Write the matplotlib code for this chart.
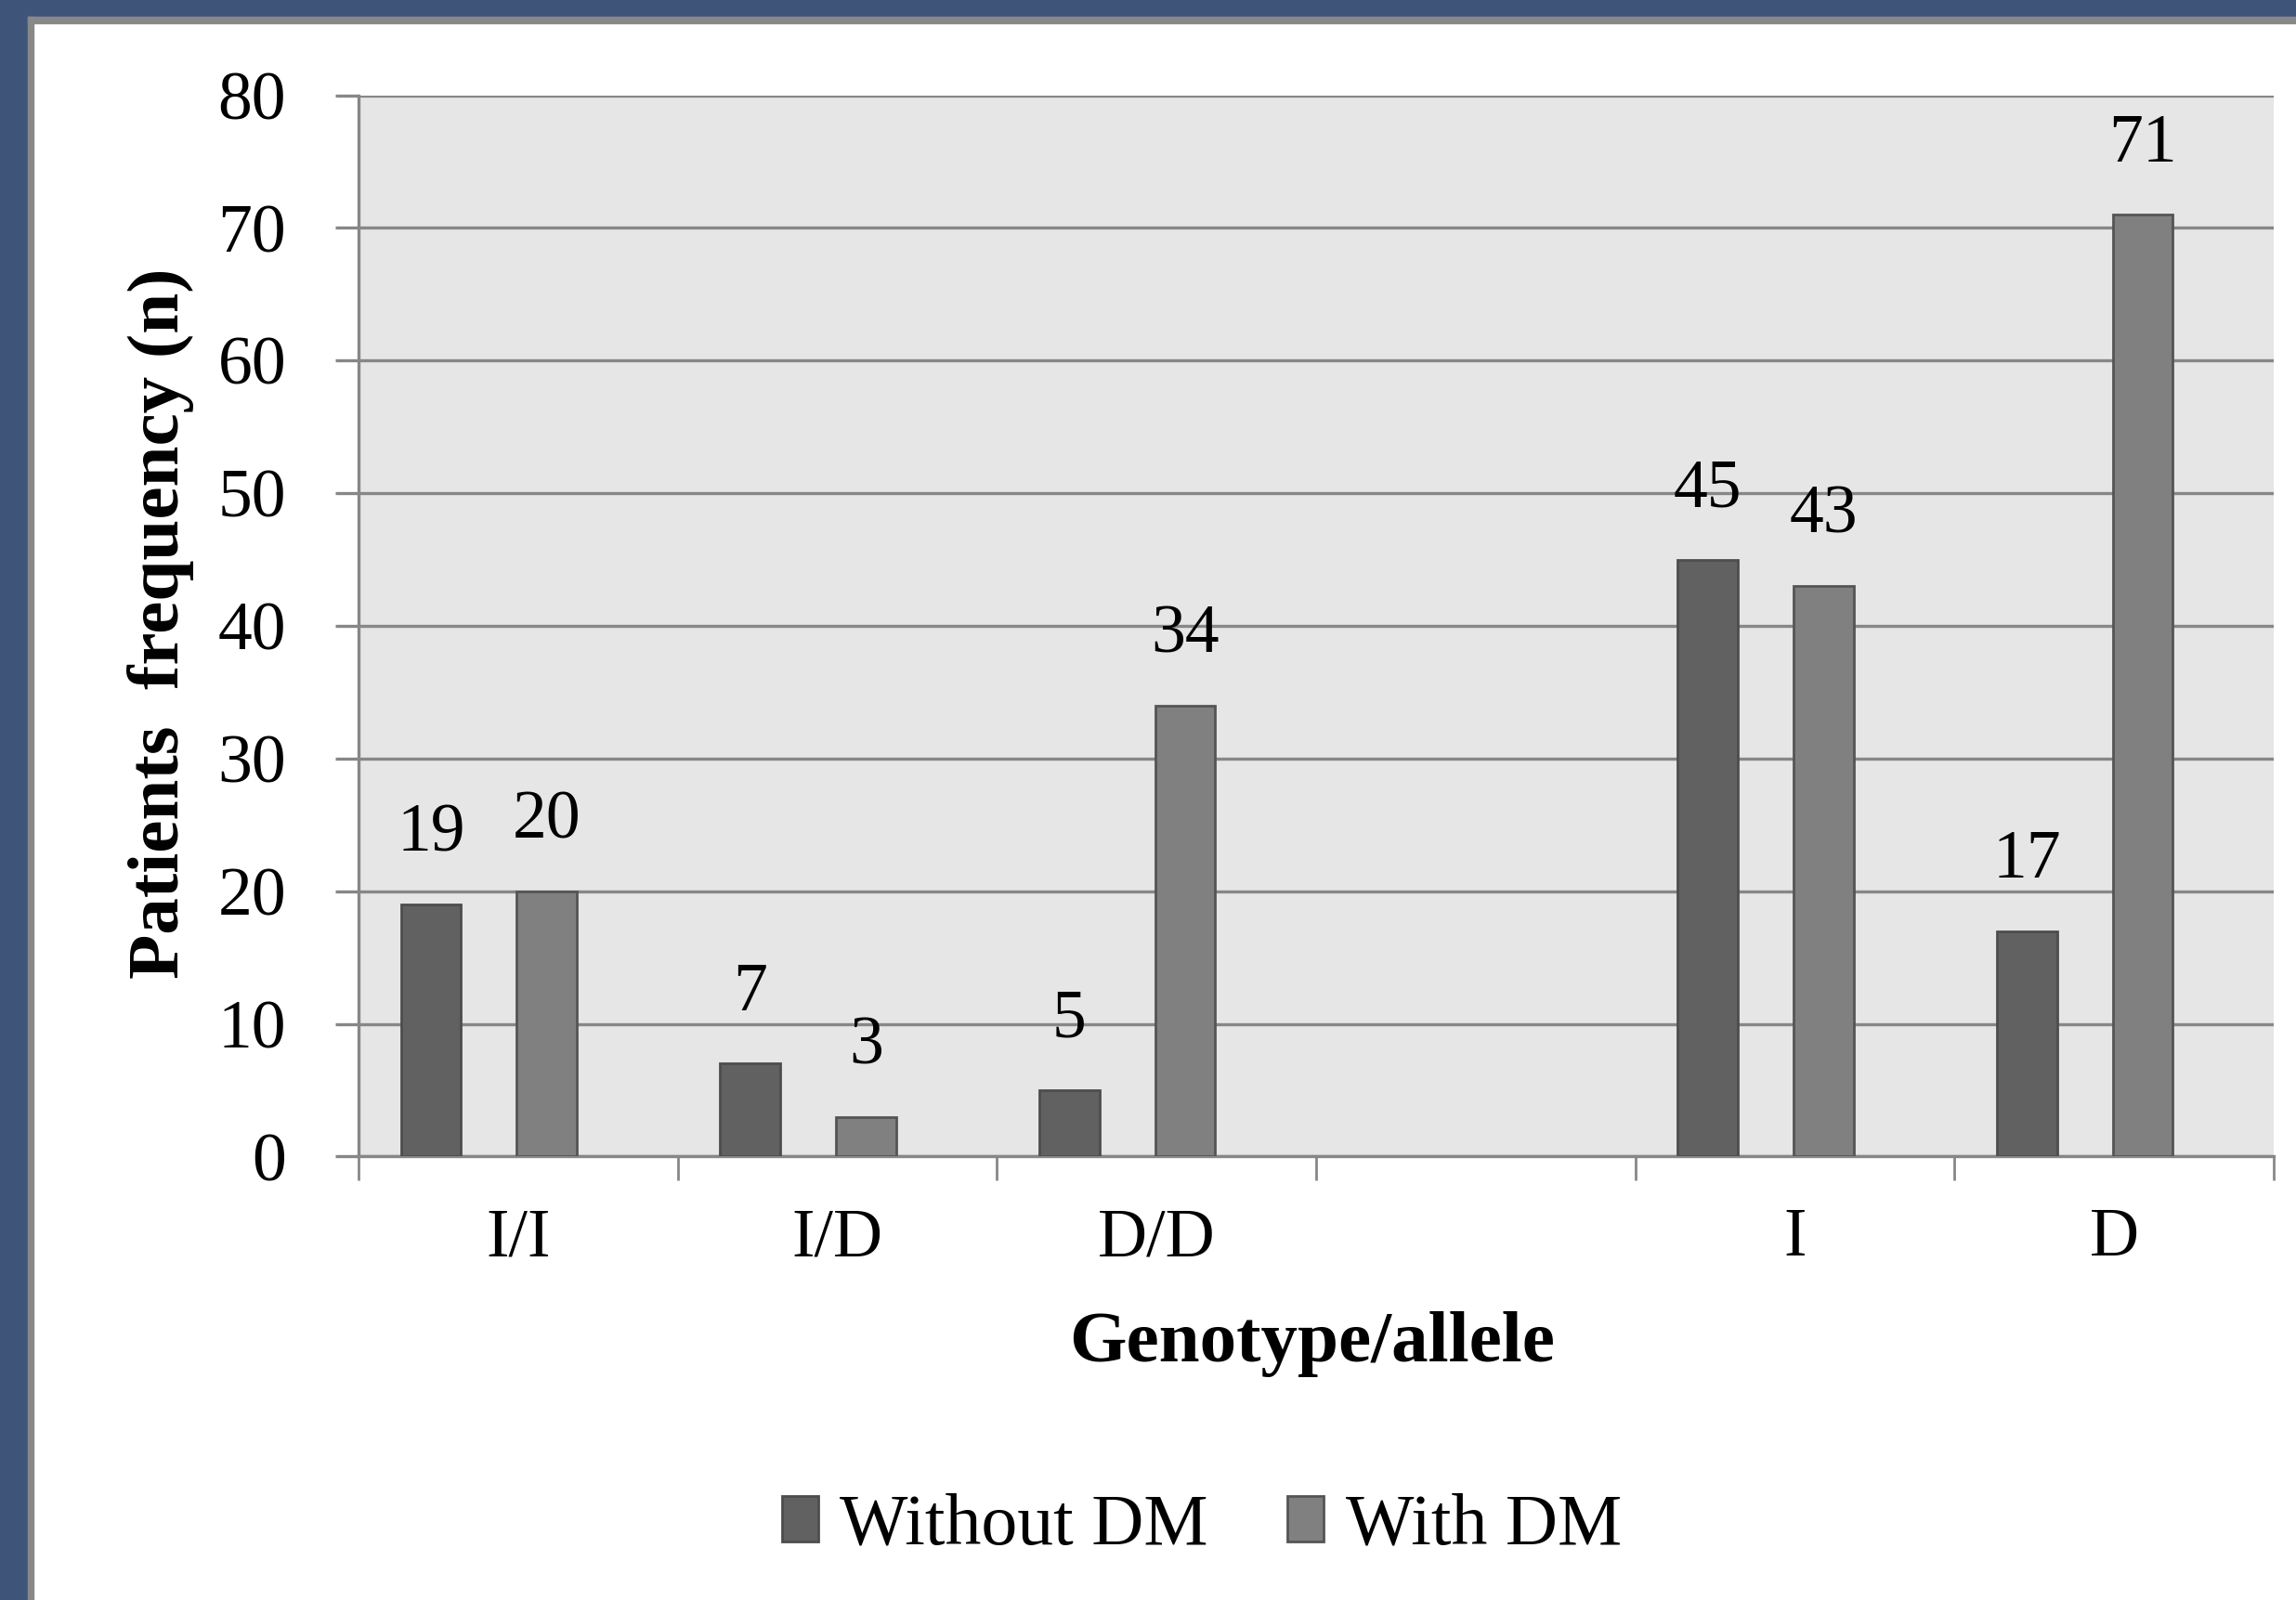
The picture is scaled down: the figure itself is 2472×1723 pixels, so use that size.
import numpy as np
import matplotlib
matplotlib.use("Agg")
import matplotlib.pyplot as plt
from matplotlib.patches import Rectangle

# data
categories = ['I/I', 'I/D', 'D/D', '', 'I', 'D']
without_dm = [19, 7, 5, np.nan, 45, 17]
with_dm = [20, 3, 34, np.nan, 43, 71]
series_names = ['Without DM', 'With DM']
y_ticks = [0, 10, 20, 30, 40, 50, 60, 70, 80]

dark = '#616161'
light = '#808080'
grid_col = '#878787'
frame_blue = '#3f5479'

plt.rcParams['font.family'] = ['Liberation Serif', 'DejaVu Serif']

fig = plt.figure(figsize=(24.72, 17.23), dpi=100)
fig.patch.set_facecolor('white')

W, H = 2472.0, 1723.0
ax = fig.add_axes([386 / W, 1 - 1245.4 / H, (2448 - 386) / W, (1245.4 - 102.5) / H])
ax.set_facecolor('#e6e6e6')

x = np.arange(len(categories))
bw = 0.188
off_dark = -0.273
off_light = 0.0894

wo = np.array(without_dm, dtype=float)
wi = np.array(with_dm, dtype=float)
m = ~np.isnan(wo)
b1 = ax.bar(x[m] + off_dark, wo[m], width=bw, color=dark, edgecolor='#4d4d4d',
            linewidth=2, zorder=3, label=series_names[0])
b2 = ax.bar(x[m] + off_light, wi[m], width=bw, color=light, edgecolor='#555555',
            linewidth=2, zorder=3, label=series_names[1])

for xs, vals in [(x[m] + off_dark, wo[m]), (x[m] + off_light, wi[m])]:
    for xx, v in zip(xs, vals):
        ax.annotate('%d' % v, (xx, v), xytext=(0, 54), textcoords='offset points',
                    ha='center', va='center', fontsize=53, color='black')

ax.set_xlim(-0.5, len(categories) - 0.5)
ax.set_ylim(0, 80)
ax.set_yticks(y_ticks)
ax.yaxis.grid(True, color=grid_col, linewidth=2.4, zorder=1)
ax.set_axisbelow(True)

ax.set_xticks(x)
ax.set_xticklabels(categories)
ax.set_xticks(np.arange(len(categories) + 1) - 0.5, minor=True)
ax.tick_params(axis='x', which='major', length=0, pad=40, labelsize=53)
ax.tick_params(axis='x', which='minor', length=19, width=2, color=grid_col)
ax.tick_params(axis='y', length=18, width=2.4, color=grid_col, pad=38, labelsize=53)

for s in ['top', 'right']:
    ax.spines[s].set_visible(False)
for s in ['left', 'bottom']:
    ax.spines[s].set_color(grid_col)
    ax.spines[s].set_linewidth(2.4)

ax.set_ylabel('Patients  frequency (n)', fontsize=57, fontweight='bold', va='center')
ax.yaxis.set_label_coords(-0.1033, 0.502)
ax.set_xlabel('Genotype/allele', fontsize=57, fontweight='bold', va='center')
ax.xaxis.set_label_coords(0.498, -0.177)

fig.legend(handles=[b1, b2], labels=series_names, loc='center',
           bbox_to_anchor=(1294 / W, 1 - 1644 / H), ncol=2, frameon=False,
           fontsize=56, handlelength=0.5, handleheight=0.6, handletextpad=0.3,
           columnspacing=1.1)

# blue frame with thin gray inner line (top and left)
fig.add_artist(Rectangle((0, 0), 30 / W, 1, transform=fig.transFigure,
                         color=frame_blue, zorder=0))
fig.add_artist(Rectangle((0, 1 - 18 / H), 1, 18 / H, transform=fig.transFigure,
                         color=frame_blue, zorder=0))
fig.add_artist(Rectangle((30 / W, 0), 6 / W, 1 - 18 / H, transform=fig.transFigure,
                         color='#888888', zorder=0))
fig.add_artist(Rectangle((30 / W, 1 - 25 / H), 1, 7 / H, transform=fig.transFigure,
                         color='#888888', zorder=0))

fig.savefig('out.png', dpi=100)
